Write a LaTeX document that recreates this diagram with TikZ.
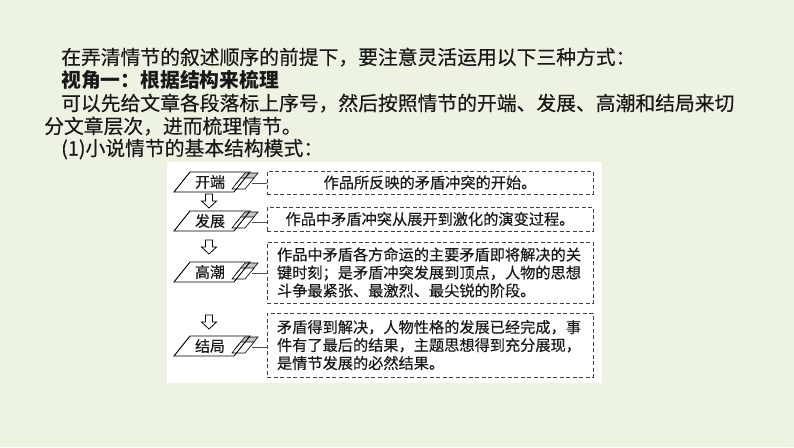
\documentclass[tikz,border=0pt]{standalone}
\usepackage{fontspec}
\newfontfamily\cjk[FakeBold=0.35]{Noto Sans CJK SC}
\newfontfamily\cjkb{Noto Sans CJK SC}
\definecolor{bgc}{RGB}{237,243,226}
\definecolor{txt}{RGB}{25,25,25}
\begin{document}
\begin{tikzpicture}[x=1pt,y=-1pt,
  para/.style={anchor=base west, inner sep=0pt, text=txt, font=\cjk\fontsize{19.8}{23}\selectfont},
  lab/.style={inner sep=0pt, text=txt, font=\cjk\fontsize{15}{18}\selectfont},
  dbox/.style={draw=black!75, dash pattern=on 4pt off 2.5pt, line width=0.9pt,
    minimum width=326pt, text width=306pt, inner xsep=10pt, inner ysep=0pt,
    text=txt, font=\cjk\fontsize{15.2}{18}\selectfont},
  conn/.style={draw=black!70, line width=0.8pt},
  hollowarrow/.pic={
    \draw[line width=0.8pt, fill=white] (-3.5,-7) -- (3.5,-7) -- (3.5,0) -- (7.5,0) -- (0,7) -- (-7.5,0) -- (-3.5,0) -- cycle;
  },
  labframe/.pic={
    \filldraw[fill=gray!45, line width=0.6pt] (25,3) -- (35,-9) -- (48,-9) -- (38,3) -- cycle;
    \filldraw[fill=white, line width=0.6pt] (22,7) -- (31,-4) -- (44,-4) -- (35,7) -- cycle;
    \draw[line width=0.9pt] (-36,10) -- (-20,-10) -- (40,-10) -- (24,10) -- cycle;
  }
]
\useasboundingbox (0,0) rectangle (794,447);
\fill[bgc] (0,0) rectangle (794,447);

% header text
\node[para] (l1) at (61,64.5) {在弄清情节的叙述顺序的前提下，要注意灵活运用以下三种方式：};
\node[para, font=\cjkb\bfseries\fontsize{19.8}{23}\selectfont] (l2) at (61,87.5) {视角一：根据结构来梳理};
\node[para] (l3) at (61,110.5) {可以先给文章各段落标上序号，然后按照情节的开端、发展、高潮和结局来切};
\node[para] (l4) at (44,133.5) {分文章层次，进而梳理情节。};
\node[para] (l5) at (61,155.5) {(1)小说情节的基本结构模式：};

% white panel
\fill[white] (167,162) rectangle (602,383);

% labels
\node[lab] (kd) at (210,182) {开端};
\node[lab] (fz) at (210,221) {发展};
\node[lab] (gc) at (210,272) {高潮};
\node[lab] (jj) at (210,346) {结局};
\foreach \n in {kd,fz,gc,jj} {
  \pic at (\n.center) {labframe};
  \path (\n.center) ++(42,1) coordinate (\n t);
}

% dashed boxes
\node[dbox, align=center, minimum height=23pt] (b1) at (430,182.5) {作品所反映的矛盾冲突的开始。};
\node[dbox, align=center, minimum height=24pt] (b2) at (430,219) {作品中矛盾冲突从展开到激化的演变过程。};
\node[dbox, align=left, minimum height=61pt] (b3) at (430,272.5) {作品中矛盾各方命运的主要矛盾即将解决的关\\键时刻；是矛盾冲突发展到顶点，人物的思想\\斗争最紧张、最激烈、最尖锐的阶段。};
\node[dbox, align=left, minimum height=64pt] (b4) at (430,345) {矛盾得到解决，人物性格的发展已经完成，事\\件有了最后的结果，主题思想得到充分展现，\\是情节发展的必然结果。};

% connectors
\draw[conn] (kdt) -- (kdt -| b1.west);
\draw[conn] (fzt) -- (fzt -| b2.west);
\draw[conn] (gct) -- (gct -| b3.west);
\draw[conn] (jjt) -- (jjt -| b4.west);

% hollow arrows
\pic at (209,201) {hollowarrow};
\pic at (209,247) {hollowarrow};
\pic at (209,322) {hollowarrow};
\end{tikzpicture}
\end{document}
